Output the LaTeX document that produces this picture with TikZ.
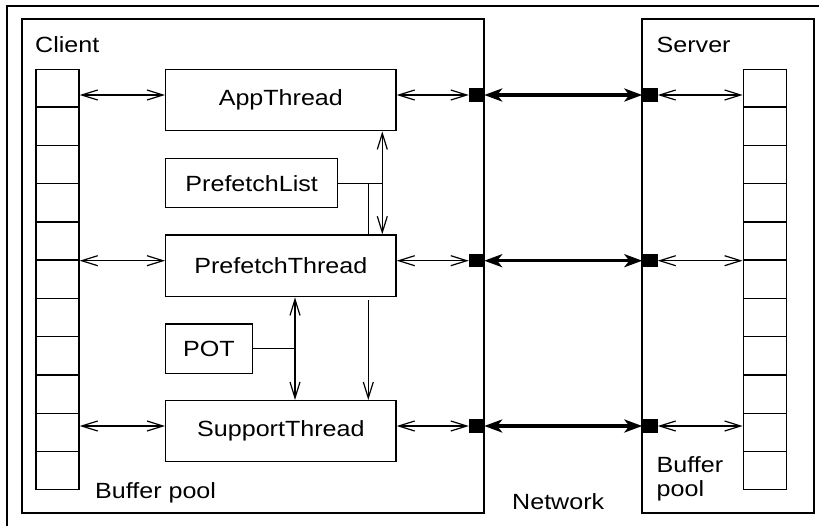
\documentclass[tikz,border=0pt]{standalone}
\usepackage{fontspec}
\setmainfont{Liberation Sans}[FakeStretch=1.14]
\usetikzlibrary{arrows.meta,calc}
\begin{document}
\begin{tikzpicture}[x=1pt,y=-1pt,
  every node/.style={font=\fontsize{22}{24}\selectfont, inner sep=0pt},
  box/.style={draw, line width=1.4pt, rectangle},
  frame/.style={draw, line width=1.5pt},
  port/.style={fill, rectangle, minimum width=15pt, minimum height=13.5pt},
  barb/.tip={Straight Barb[length=16pt,width=10pt]},
  wire/.style={line width=1.2pt},
  link/.style={wire, barb-barb},
  net/.style={line width=3.4pt, {Stealth[length=18pt,width=13pt,inset=5pt]}-{Stealth[length=18pt,width=13pt,inset=5pt]}}
]
\useasboundingbox (0,0) rectangle (819,525);
\clip (0,0) rectangle (819,525);

% outer frame, running past the right and bottom edges
\draw[frame] (7,6) rectangle (835,540);

% client and server machines
\node[box, line width=1.5pt, minimum width=462pt, minimum height=494pt] (client) at (253,266) {};
\node[box, line width=1.5pt, minimum width=172pt, minimum height=494pt] (server) at (728,266) {};

% buffer pools: 11 slots each
\node[box, minimum width=43pt, minimum height=420pt] (cbuf) at (57.5,279.3) {};
\node[box, minimum width=43.4pt, minimum height=420pt] (sbuf) at (765,279.3) {};
\foreach \b in {cbuf,sbuf}{
  \foreach \k in {1,...,10}{
    \draw[line width=1.4pt] ($(\b.north west)!\k/11!(\b.south west)$) -- ($(\b.north east)!\k/11!(\b.south east)$);
  }
}

% threads and tables
\node[box, minimum width=230.3pt, minimum height=61.4pt] (app) at (280.85,100) {AppThread};
\node[box, minimum width=172pt, minimum height=49pt] (pfl) at (251.7,183.2) {PrefetchList};
\node[box, minimum width=230.3pt, minimum height=61.7pt] (pft) at (280.85,265.85) {PrefetchThread};
\node[box, minimum width=86.6pt, minimum height=49.3pt] (pot) at (209,348.65) {POT};
\node[box, minimum width=230.3pt, minimum height=61pt] (sup) at (280.85,431.2) {SupportThread};

% network ports
\node[port] (cp1) at (476.5,95) {};
\node[port] (cp2) at (476.5,260.7) {};
\node[port] (cp3) at (476.5,426) {};
\node[port] (sp1) at (650,95) {};
\node[port] (sp2) at (650,260.7) {};
\node[port] (sp3) at (650,426) {};

% horizontal data paths
\foreach \t/\i in {app/1,pft/2,sup/3}{
  \draw[link] (cbuf.east |- cp\i) -- (\t.west |- cp\i);
  \draw[link] (\t.east |- cp\i) -- (cp\i.west);
  \draw[net] (cp\i.east) -- (sp\i.west);
  \draw[link] (sp\i.east) -- (sbuf.west |- sp\i);
}

% vertical links between threads
\coordinate (vx) at (382.3,0);
\coordinate (tx) at (368.3,0);
\coordinate (px) at (295,0);
\draw[link] (app.south -| vx) -- (pft.north -| vx);
\draw[wire] (pfl.east) -- (pfl.east -| vx);
\draw[wire] (pfl.east -| tx) -- (pft.north -| tx);
\draw[wire] (pot.east) -- (pot.east -| px);
\draw[link] (pft.south -| px) -- (sup.north -| px);
\coordinate (gap) at ($(pft.south -| tx)+(0,3)$);
\draw[wire, -barb] (gap) -- (sup.north -| tx);

% labels
\node[anchor=base west] (lclient) at (35,52.3) {Client};
\node[anchor=base west] (lserver) at (656.5,52.3) {Server};
\node[anchor=base west] (lcpool) at (95,498.3) {Buffer pool};
\node[anchor=base west] (lnet) at (512,509.3) {Network};
\node[anchor=base west, align=left] (lspool) at (656.5,496) {Buffer\\pool};
\end{tikzpicture}
\end{document}
